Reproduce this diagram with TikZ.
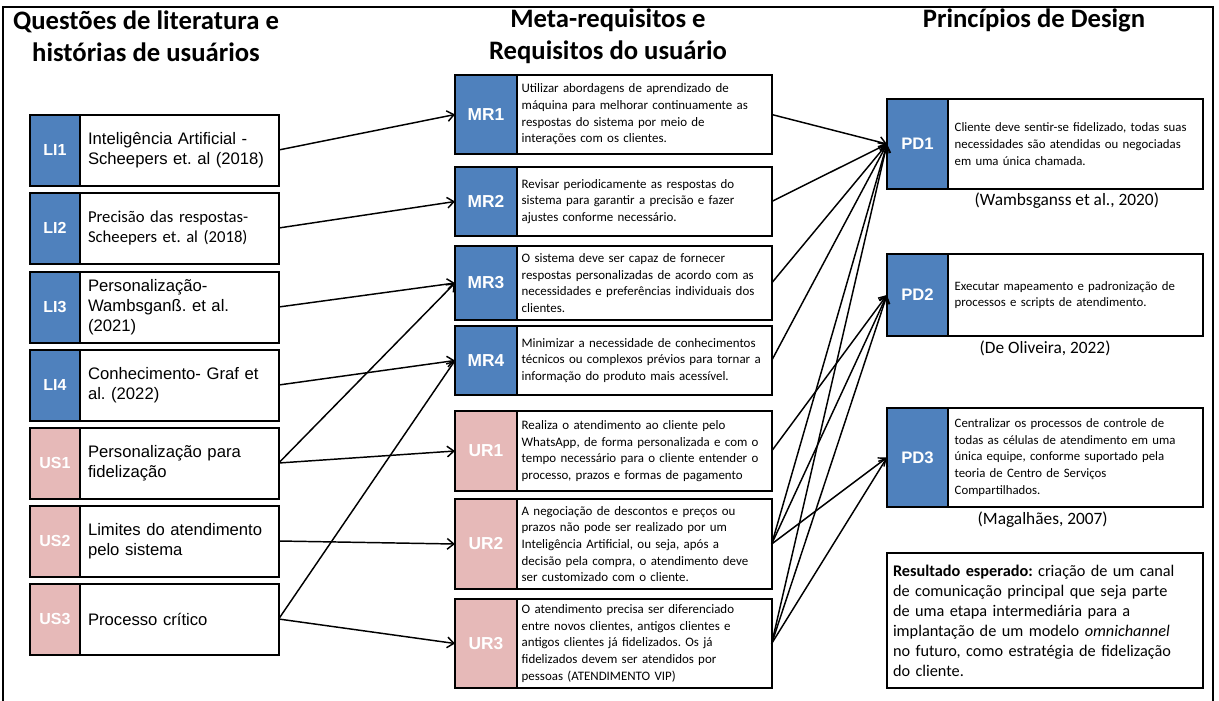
\documentclass[tikz,border=0pt]{standalone}
\usepackage{fontspec}
\setmainfont{Carlito}
\newfontfamily\arialfont{Liberation Sans}
\usetikzlibrary{arrows.meta, positioning}
\definecolor{TAGBLUE}{HTML}{4F81BD}
\definecolor{TAGPINK}{HTML}{E6B9B8}
\frenchspacing

\begin{document}
\begin{tikzpicture}[x=0.75pt, y=-0.75pt,
        frame/.style={draw, line width=1.5pt, outer sep=0pt},
        littag/.style={frame, minimum width=37.5pt, minimum height=53.25pt,
                       text=white, font=\arialfont\bfseries\fontsize{12}{14}\selectfont},
        littxt/.style={frame, fill=white, minimum height=53.25pt, text width=137pt,
                       inner xsep=6pt, align=left, font=\arialfont\fontsize{12.5}{15}\selectfont},
        midtag/.style={frame, minimum width=46.5pt, text=white,
                       font=\arialfont\bfseries\fontsize{13}{15}\selectfont},
        midtxt/.style={frame, fill=white, text width=184pt, inner xsep=3.5pt,
                       align=left, font=\fontsize{9.7}{12.5}\selectfont},
        pdtag/.style={frame, fill=TAGBLUE, minimum width=45.75pt, text=white,
                      font=\arialfont\bfseries\fontsize{12.5}{15}\selectfont},
        pdtxt/.style={frame, fill=white, text width=181pt, inner xsep=5pt,
                      align=left, font=\fontsize{9.6}{12.5}\selectfont},
        cite/.style={anchor=west, font=\fontsize{13}{15}\selectfont},
        title/.style={align=center, font=\bfseries\fontsize{20}{24}\selectfont},
        arr/.style={-{Straight Barb[length=5pt, width=8pt]}, line width=1.1pt}
      ]
        \clip (0,0) rectangle (1219,700);
        \draw[line width=1.5pt] (3,7) rectangle (1213,710);

        % column titles
        \node[title] (t1) at (146,36) {Questões de literatura e\\histórias de usuários};
        \node[title] (t2) at (608,36) {Meta-requisitos e\\Requisitos do usuário};
        \node[title] (t3) at (1034,20) {Princípios de Design};

        % literature and user stories
        \node[littag, fill=TAGBLUE] (li1tag) at (55,150) {LI1};
        \node[littxt, right=0pt of li1tag] (li1) {Inteligência Artificial -\\Scheepers et. al (2018)};
        \node[littag, fill=TAGBLUE] (li2tag) at (55,228) {LI2};
        \node[littxt, right=0pt of li2tag, font=\fontsize{12.5}{15}\selectfont] (li2)
              {Precisão das respostas-\\Scheepers et. al (2018)};
        \node[littag, fill=TAGBLUE] (li3tag) at (55,307) {LI3};
        \node[littxt, right=0pt of li3tag] (li3) {Personalização-\\Wambsganß. et al.\\(2021)};
        \node[littag, fill=TAGBLUE] (li4tag) at (55,385) {LI4};
        \node[littxt, right=0pt of li4tag] (li4) {Conhecimento- Graf et\\al. (2022)};
        \node[littag, fill=TAGPINK] (us1tag) at (55,463) {US1};
        \node[littxt, right=0pt of us1tag] (us1) {Personalização para\\fidelização};
        \node[littag, fill=TAGPINK] (us2tag) at (55,541) {US2};
        \node[littxt, right=0pt of us2tag] (us2) {Limites do atendimento\\pelo sistema};
        \node[littag, fill=TAGPINK] (us3tag) at (55,619) {US3};
        \node[littxt, right=0pt of us3tag] (us3) {Processo crítico};

        % meta-requirements and user requirements
        \node[midtag, fill=TAGBLUE, minimum height=59.25pt] (mr1tag) at (486,114.5) {MR1};
        \node[midtxt, right=0pt of mr1tag, minimum height=59.25pt] (mr1)
              {Utilizar abordagens de aprendizado de\\máquina para melhorar continuamente as\\respostas do sistema por meio de\\interações com os clientes.};
        \node[midtag, fill=TAGBLUE, minimum height=51.75pt] (mr2tag) at (486,201.5) {MR2};
        \node[midtxt, right=0pt of mr2tag, minimum height=51.75pt] (mr2)
              {Revisar periodicamente as respostas do\\sistema para garantir a precisão e fazer\\ajustes conforme necessário.};
        \node[midtag, fill=TAGBLUE, minimum height=55.5pt] (mr3tag) at (486,283) {MR3};
        \node[midtxt, right=0pt of mr3tag, minimum height=55.5pt] (mr3)
              {O sistema deve ser capaz de fornecer\\respostas personalizadas de acordo com as\\necessidades e preferências individuais dos\\clientes.};
        \node[midtag, fill=TAGBLUE, minimum height=51.75pt] (mr4tag) at (486,360.5) {MR4};
        \node[midtxt, right=0pt of mr4tag, minimum height=51.75pt] (mr4)
              {Minimizar a necessidade de conhecimentos\\técnicos ou complexos prévios para tornar a\\informação do produto mais acessível.};
        \node[midtag, fill=TAGPINK, minimum height=60pt] (ur1tag) at (486,451) {UR1};
        \node[midtxt, right=0pt of ur1tag, minimum height=60pt] (ur1)
              {Realiza o atendimento ao cliente pelo\\WhatsApp, de forma personalizada e com o\\tempo necessário para o cliente entender o\\processo, prazos e formas de pagamento};
        \node[midtag, fill=TAGPINK, minimum height=67.5pt] (ur2tag) at (486,544) {UR2};
        \node[midtxt, right=0pt of ur2tag, minimum height=67.5pt] (ur2)
              {A negociação de descontos e preços ou\\prazos não pode ser realizado por um\\Inteligência Artificial, ou seja, após a\\decisão pela compra, o atendimento deve\\ser customizado com o cliente.};
        \node[midtag, fill=TAGPINK, minimum height=66.75pt] (ur3tag) at (486,643.5) {UR3};
        \node[midtxt, right=0pt of ur3tag, minimum height=66.75pt] (ur3)
              {O atendimento precisa ser diferenciado\\entre novos clientes, antigos clientes e\\antigos clientes já fidelizados. Os já\\fidelizados devem ser atendidos por\\pessoas (ATENDIMENTO VIP)};

        % design principles
        \node[pdtag, minimum height=67.5pt] (pd1tag) at (917.5,144) {PD1};
        \node[pdtxt, right=0pt of pd1tag, minimum height=67.5pt] (pd1)
              {Cliente deve sentir-se fidelizado, todas suas\\necessidades são atendidas ou negociadas\\em uma única chamada.};
        \node[cite] (cite1) at (970,201) {(Wambsganss et al., 2020)};
        \node[pdtag, minimum height=61.5pt] (pd2tag) at (917.5,295) {PD2};
        \node[pdtxt, right=0pt of pd2tag, minimum height=61.5pt] (pd2)
              {Executar mapeamento e padronização de\\processos e scripts de atendimento.};
        \node[cite] (cite2) at (975,348) {(De Oliveira, 2022)};
        \node[pdtag, minimum height=74.25pt] (pd3tag) at (917.5,457.5) {PD3};
        \node[pdtxt, right=0pt of pd3tag, minimum height=74.25pt] (pd3)
              {Centralizar os processos de controle de\\todas as células de atendimento em uma\\única equipe, conforme suportado pela\\teoria de Centro de Serviços\\Compartilhados.};
        \node[cite] (cite3) at (973,520) {(Magalhães, 2007)};

        \node[frame, text width=228pt, inner xsep=4.5pt, minimum height=101.25pt,
              align=left, font=\fontsize{12.2}{15}\selectfont] (result) at (1045,620.5)
              {\textbf{Resultado esperado:} criação de um canal\\de comunicação principal que seja parte\\de uma etapa intermediária para a\\implantação de um modelo \textit{omnichannel}\\no futuro, como estratégia de fidelização\\do cliente.};

        % left to middle
        \draw[arr] (li1.east) -- (mr1tag.west);
        \draw[arr] (li2.east) -- (mr2tag.west);
        \draw[arr] (li3.east) -- (mr3tag.west);
        \draw[arr] (li4.east) -- (mr4tag.west);
        \draw[arr] (us1.east) -- (mr3tag.west);
        \draw[arr] (us1.east) -- (ur1tag.west);
        \draw[arr] (us2.east) -- (ur2tag.west);
        \draw[arr] (us3.east) -- (mr4tag.west);
        \draw[arr] (us3.east) -- (ur3tag.west);

        % middle to right
        \foreach \src in {mr1, mr2, mr3, mr4, ur2, ur3}
          \draw[arr] (\src.east) -- (pd1tag.west);
        \foreach \src in {ur1, ur2, ur3}
          \draw[arr] (\src.east) -- (pd2tag.west);
        \draw[arr] (ur2.east) -- (pd3tag.west);
        \draw[arr] (ur3.east) -- (pd3tag.west);
      \end{tikzpicture}
\end{document}
